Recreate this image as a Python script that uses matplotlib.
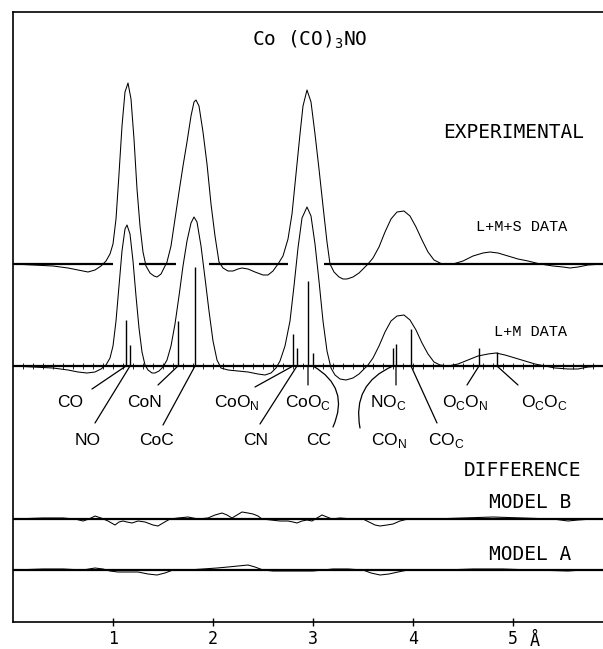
import matplotlib.pyplot as plt
from matplotlib.patches import FancyArrowPatch
import numpy as np

# radial distribution curves, r in angstrom, heights above each baseline
exp_r = [0.00, 0.20, 0.40, 0.55, 0.65, 0.75, 0.82, 0.88, 0.93, 0.97, 1.00, 1.03, 1.06, 1.09, 1.12,
         1.15, 1.18, 1.21, 1.24, 1.27, 1.30, 1.33, 1.37, 1.41, 1.44, 1.48, 1.51, 1.54, 1.58, 1.62,
         1.66, 1.70, 1.74, 1.78, 1.81, 1.83, 1.86, 1.90, 1.94, 1.98, 2.02, 2.06, 2.10, 2.15, 2.20,
         2.25, 2.29, 2.35, 2.42, 2.50, 2.55, 2.60, 2.65, 2.70, 2.75, 2.79, 2.83, 2.87, 2.90, 2.94,
         2.98, 3.02, 3.06, 3.10, 3.14, 3.17, 3.21, 3.26, 3.30, 3.34, 3.40, 3.46, 3.51, 3.55, 3.60,
         3.66, 3.72, 3.78, 3.84, 3.91, 3.97, 4.03, 4.09, 4.15, 4.21, 4.29, 4.40, 4.50, 4.60, 4.70,
         4.77, 4.85, 4.95, 5.05, 5.15, 5.27, 5.40, 5.50, 5.57, 5.65, 5.75, 5.90, 6.00]
exp_h = [0, -1, -2, -4, -6, -8, -6, -2, 3, 10, 20, 45, 90, 138, 172,
         181, 165, 125, 75, 38, 12, -2, -9, -12, -13, -10, -4, 2, 18, 45,
         72, 98, 122, 148, 162, 164, 158, 132, 100, 60, 28, 2, -4, -7, -7,
         -5, -4, -5, -8, -11, -11, -7, 0, 8, 25, 50, 90, 130, 158, 174,
         162, 130, 95, 58, 22, 0, -8, -13, -15, -15, -13, -9, -4, 0, 6,
         17, 32, 45, 52, 53, 48, 37, 24, 12, 4, 0, 0, 3, 8, 11,
         12, 11, 8, 5, 3, 0, -2, -3, -4, -3, -1, 0, 0]

lm_r = [0.00, 0.20, 0.40, 0.55, 0.65, 0.74, 0.82, 0.88, 0.93, 0.97, 1.00, 1.03, 1.06, 1.09, 1.12,
        1.14, 1.17, 1.20, 1.23, 1.26, 1.29, 1.32, 1.35, 1.39, 1.42, 1.46, 1.50, 1.54, 1.58, 1.62,
        1.66, 1.70, 1.74, 1.78, 1.81, 1.84, 1.88, 1.92, 1.96, 2.00, 2.04, 2.08, 2.15, 2.25, 2.35,
        2.45, 2.52, 2.58, 2.63, 2.67, 2.72, 2.77, 2.81, 2.85, 2.89, 2.94, 2.98, 3.02, 3.06, 3.10,
        3.14, 3.18, 3.22, 3.27, 3.33, 3.40, 3.46, 3.51, 3.55, 3.60, 3.66, 3.72, 3.78, 3.84, 3.91,
        3.97, 4.03, 4.09, 4.15, 4.21, 4.27, 4.35, 4.45, 4.55, 4.65, 4.75, 4.83, 4.92, 5.02, 5.12,
        5.22, 5.32, 5.42, 5.55, 5.65, 5.75, 5.90, 6.00]
lm_h = [0, -1, -2, -4, -6, -7, -6, -3, 1, 8, 20, 45, 80, 115, 137,
        141, 132, 105, 70, 38, 14, 1, -4, -7, -7, -5, -1, 6, 20, 42,
        70, 100, 125, 143, 149, 144, 120, 88, 55, 25, 6, -2, -4, -5, -6,
        -8, -9, -7, -2, 5, 20, 45, 80, 118, 148, 159, 150, 122, 85, 45,
        15, -2, -9, -13, -14, -12, -8, -3, 1, 8, 20, 34, 45, 50, 51,
        46, 36, 23, 12, 4, 1, 0, 2, 6, 10, 12, 13, 11, 8, 5,
        2, 0, -2, -3, -3, -1, 0, 0]

modb_r = [0.00, 0.30, 0.50, 0.62, 0.70, 0.76, 0.82, 0.88, 0.95, 1.02, 1.06, 1.10, 1.14, 1.19, 1.25,
          1.32, 1.40, 1.45, 1.50, 1.57, 1.65, 1.75, 1.85, 1.95, 2.02, 2.09, 2.14, 2.19, 2.24, 2.29,
          2.35, 2.40, 2.45, 2.49, 2.58, 2.67, 2.75, 2.80, 2.84, 2.89, 2.94, 2.99, 3.04, 3.09, 3.14,
          3.19, 3.27, 3.40, 3.50, 3.56, 3.62, 3.67, 3.74, 3.80, 3.87, 3.95, 4.20, 4.50, 4.80, 5.10,
          5.40, 5.55, 5.65, 5.80, 6.00]
modb_h = [0, 1, 1, 0, -2, 0, 3, 1, -2, -6, -3, -2, -3, -4, -2,
          -3, -6, -7, -4, 0, 1, 2, 0, 1, 4, 6, 4, 1, 4, 7,
          6, 5, 3, 0, -1, -2, -2, -3, -4, -2, -1, -2, 1, 4, 2,
          0, 1, 0, 0, -3, -6, -7, -6, -5, -2, 0, 0, 1, 2, 1,
          0, -2, -1, 0, 0]

moda_r = [0.00, 0.30, 0.50, 0.70, 0.82, 0.90, 0.97, 1.05, 1.15, 1.25, 1.35, 1.44, 1.52, 1.60, 1.75,
          1.90, 2.04, 2.15, 2.25, 2.35, 2.42, 2.50, 2.60, 2.80, 3.00, 3.10, 3.20, 3.35, 3.50, 3.58,
          3.67, 3.76, 3.85, 3.95, 4.30, 4.60, 4.90, 5.20, 5.55, 5.70, 6.00]
moda_h = [0, 1, 1, 0, 2, 1, -1, -2, -2, -2, -4, -5, -3, 0, 0,
          1, 2, 3, 4, 5, 3, 0, -1, -1, -1, 0, 1, 1, 0, -3,
          -5, -4, -2, 0, 0, 1, 1, 0, -1, 0, 0]

# model distances (L+M panel)
bond_names = ["CO", "NO", "CoN", "CoC", r"CoO$_{\mathregular{N}}$", "CN", r"CoO$_{\mathregular{C}}$", "CC",
              r"CO$_{\mathregular{N}}$", r"NO$_{\mathregular{C}}$", r"CO$_{\mathregular{C}}$",
              r"O$_{\mathregular{C}}$O$_{\mathregular{N}}$", r"O$_{\mathregular{C}}$O$_{\mathregular{C}}$"]
bond_r = [1.13, 1.17, 1.65, 1.82, 2.80, 2.84, 2.95, 3.00, 3.80, 3.83, 3.98, 4.66, 4.84]
bond_h = [46, 21, 45, 99, 32, 18, 85, 13, 18, 22, 37, 18, 14]

# label layout: (label x, label baseline y, leader end x, leader end y, arc)
label_pos = [(0.57, 215, 0.79, 233, 0), (0.75, 177, 0.82, 199, 0),
             (1.32, 215, 1.45, 237, 0), (1.43, 177, 1.50, 197, 0),
             (2.24, 215, 2.42, 235, 0), (2.43, 177, 2.47, 198, 0),
             (2.95, 215, 2.95, 237, 0), (3.06, 177, 3.20, 195, -0.45),
             (3.76, 177, 3.47, 194, 0.4), (3.75, 215, 3.83, 237, 0),
             (4.33, 177, 4.24, 199, 0), (4.52, 215, 4.54, 237, 0),
             (5.31, 215, 5.05, 237, 0)]

exp_gaps = [(0.0, 1.00), (1.26, 1.63), (1.96, 2.75), (3.11, 6.0)]

y_exp, y_lm, y_b, y_a = 358, 256, 103, 52

fig = plt.figure(figsize=(6.03, 6.49), dpi=100)
ax = fig.add_axes([13 / 603, 27 / 649, 600 / 603, 610 / 649])
ax.set_xlim(0, 6.0)
ax.set_ylim(0, 610)

lw_thin = 0.75
ax.plot(exp_r, np.array(exp_h) + y_exp, color="k", lw=lw_thin)
for a, b in exp_gaps:
    ax.hlines(y_exp, a, b, color="k", lw=1.6)

ax.plot(lm_r, np.array(lm_h) + y_lm, color="k", lw=lw_thin)
ax.hlines(y_lm, 0, 6.0, color="k", lw=1.6)
ax.vlines(np.arange(0.1, 6.0, 0.1), y_lm - 3, y_lm + 3, color="k", lw=0.6)
ax.vlines(bond_r, y_lm, y_lm + np.array(bond_h), color="k", lw=1.0)

for name, r, (lx, ly, ex, ey, rad) in zip(bond_names, bond_r, label_pos):
    ax.text(lx, ly, name, ha="center", va="baseline", fontsize=12.5, family="Liberation Sans")
    ax.add_patch(FancyArrowPatch((r, y_lm), (ex, ey), arrowstyle="-",
                                 connectionstyle=f"arc3,rad={rad}", color="k", lw=0.9,
                                 shrinkA=0, shrinkB=0))

ax.plot(modb_r, np.array(modb_h) + y_b, color="k", lw=lw_thin)
ax.hlines(y_b, 0, 6.0, color="k", lw=1.6)
ax.plot(moda_r, np.array(moda_h) + y_a, color="k", lw=lw_thin)
ax.hlines(y_a, 0, 6.0, color="k", lw=1.6)

plot_font = dict(family="DejaVu Sans Mono", fontsize=14, ha="center", va="center")
ax.text(2.97, 582, r"Co (CO)$_{\mathregular{3}}$NO", **plot_font)
ax.text(5.005, 490, "EXPERIMENTAL", **plot_font)
ax.text(5.095, 152, "DIFFERENCE", **plot_font)
ax.text(5.17, 120, "MODEL B", **plot_font)
ax.text(5.17, 67, "MODEL A", **plot_font)
ax.text(5.085, 395, "L+M+S DATA", family="Liberation Mono", fontsize=11, ha="center", va="center")
ax.text(5.175, 290, "L+M DATA", family="Liberation Mono", fontsize=11, ha="center", va="center")

ax.spines["right"].set_visible(False)
for s in ["left", "top", "bottom"]:
    ax.spines[s].set_linewidth(1.2)
ax.set_yticks([])
ax.set_xticks([1, 2, 3, 4, 5])
ax.set_xticklabels(["1", "2", "3", "4", "5"], family="DejaVu Sans Mono", fontsize=12)
ax.tick_params(axis="x", direction="inout", length=6, width=1, pad=3)
ax.text(5.22, -19, "Å", family="DejaVu Sans Mono", fontsize=12, ha="center", va="center")

fig.savefig("out.png", dpi=100)
